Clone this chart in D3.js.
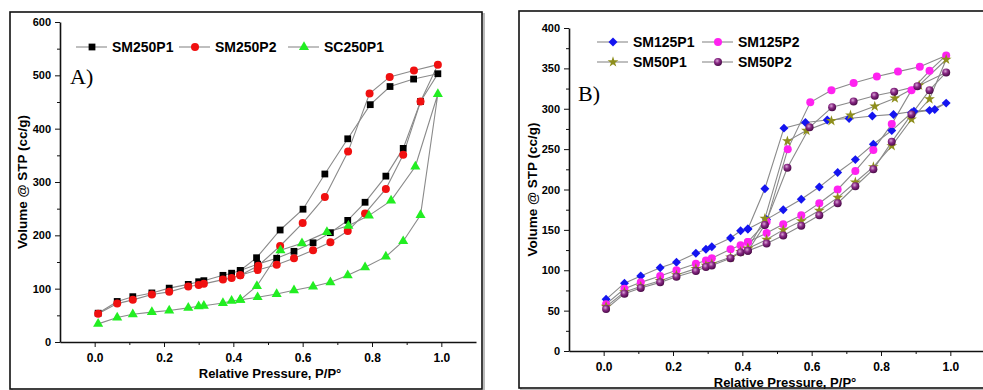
<!DOCTYPE html>
<html>
<head>
<meta charset="utf-8">
<script src="https://cdn.jsdelivr.net/npm/d3@7"></script>
<style>
  body { margin: 0; background: #fff; }
  svg { display: block; font-family: "Liberation Sans", Arial, sans-serif; }
  .tick text { font-weight: bold; fill: #000; }
  .axis path, .axis line { stroke: #111; }
  .title { font-weight: bold; fill: #000; }
</style>
</head>
<body>
<div id="chart"></div>
<script>
// panel A : relative pressure points of the adsorption branch
const aAdsX = [0.01, 0.065, 0.11, 0.165, 0.215, 0.27, 0.3, 0.315, 0.37, 0.395, 0.42, 0.47, 0.525, 0.575, 0.63, 0.68, 0.73, 0.78, 0.84, 0.89, 0.94, 0.99]
const sm250p1Ads = [54, 76, 85, 92, 101, 108, 113, 115, 125, 129, 134, 146, 157, 170, 186, 205, 228, 262, 311, 363, 451, 503]
const sm250p2Ads = [53, 72, 79, 89, 94, 104, 107, 109, 117, 120, 125, 135, 145, 157, 172, 187, 208, 241, 287, 351, 451, 520]
const sc250p1Ads = [34, 46, 52, 56, 59, 64, 67, 68, 73, 77, 79, 84, 90, 97, 104, 112, 125, 140, 160, 189, 238, 465]
// desorption branches
const sm250p1DesX = [0.92, 0.852, 0.795, 0.73, 0.664, 0.601, 0.535, 0.467, 0.42]
const sm250p1Des = [493, 479, 445, 381, 315, 249, 210, 158, 134]
const sm250p2DesX = [0.921, 0.851, 0.793, 0.731, 0.664, 0.6, 0.535, 0.472, 0.42]
const sm250p2Des = [509, 497, 466, 357, 272, 223, 180, 143, 125]
const sc250p1DesX = [0.925, 0.855, 0.791, 0.732, 0.67, 0.598, 0.536, 0.468, 0.42]
const sc250p1Des = [329, 265, 237, 218, 206, 185, 172, 105, 79]

// panel B
const bAdsX = [0.007, 0.06, 0.107, 0.163, 0.21, 0.266, 0.295, 0.312, 0.366, 0.395, 0.416, 0.47, 0.518, 0.57, 0.622, 0.675, 0.726, 0.778, 0.831, 0.888, 0.94, 0.988]
const sm125p1Ads = [64, 84, 93, 103, 110, 121, 126, 129, 140, 149, 151, 163, 175, 188, 203, 221, 237, 256, 273, 295, 298, 307]
const sm125p2Ads = [58, 77, 85, 93, 100, 108, 112, 115, 126, 131, 135, 146, 157, 168, 183, 200, 223, 249, 281, 323, 347, 366]
const sm50p1Ads = [55, 73, 80, 87, 94, 102, 106, 108, 116, 123, 127, 138, 150, 161, 174, 190, 209, 228, 254, 287, 312, 361]
const sm50p2Ads = [52, 71, 78, 85, 92, 99, 104, 106, 115, 122, 124, 133, 143, 155, 168, 183, 204, 225, 259, 293, 323, 345]
const sm125p1DesX = [0.955, 0.895, 0.836, 0.775, 0.708, 0.645, 0.582, 0.52, 0.465, 0.416]
const sm125p1Des = [299, 297, 293, 291, 288, 286, 283, 276, 201, 151]
const sm125p2DesX = [0.912, 0.849, 0.788, 0.721, 0.657, 0.596, 0.531, 0.47, 0.416]
const sm125p2Des = [352, 346, 340, 332, 323, 308, 250, 160, 135]
const sm50p1DesX = [0.91, 0.84, 0.782, 0.712, 0.657, 0.585, 0.53, 0.465, 0.416]
const sm50p1Des = [329, 313, 303, 292, 285, 273, 260, 164, 127]
const sm50p2DesX = [0.905, 0.838, 0.782, 0.721, 0.659, 0.594, 0.53, 0.465, 0.416]
const sm50p2Des = [328, 321, 316, 309, 302, 277, 227, 156, 124]

const xTicks = [0, 0.2, 0.4, 0.6, 0.8, 1.0]
const aYTicks = [0, 100, 200, 300, 400, 500, 600]
const bYTicks = [0, 50, 100, 150, 200, 250, 300, 350, 400]

function branch(adsX, ads, desX, des){
    const pts = adsX.map((x, i) => ({ x : x, y : ads[i] }))
    desX.forEach((x, i) => pts.push({ x : x, y : des[i] }))
    return pts
}

const panelA = {
    frame : { x : 10, y : 12, w : 472, h : 377 },
    left : 60, right : 476, top : 22, bottom : 342,
    yMax : 600, yTicks : aYTicks, yMinor : 50,
    label : 'A)', labelPos : [70, 84], yTitleX : 22, xTitleX : 270,
    series : [
        { name : 'SM250P1', shape : 'square', color : '#000', pts : branch(aAdsX, sm250p1Ads, sm250p1DesX, sm250p1Des), lx : 76, ly : 47 },
        { name : 'SM250P2', shape : 'circle', color : '#f01010', pts : branch(aAdsX, sm250p2Ads, sm250p2DesX, sm250p2Des), lx : 179, ly : 47 },
        { name : 'SC250P1', shape : 'triangle', color : '#22ee22', pts : branch(aAdsX, sc250p1Ads, sc250p1DesX, sc250p1Des), lx : 288, ly : 47 }
    ]
}
const panelB = {
    frame : { x : 519, y : 11, w : 480, h : 377 },
    left : 569, right : 985, top : 28, bottom : 351,
    yMax : 400, yTicks : bYTicks, yMinor : 25,
    label : 'B)', labelPos : [578, 101], yTitleX : 532, xTitleX : 785,
    series : [
        { name : 'SM125P1', shape : 'diamond', color : '#1414f0', pts : branch(bAdsX, sm125p1Ads, sm125p1DesX, sm125p1Des), lx : 597, ly : 42 },
        { name : 'SM125P2', shape : 'circle', color : '#ff22f0', pts : branch(bAdsX, sm125p2Ads, sm125p2DesX, sm125p2Des), lx : 702, ly : 42 },
        { name : 'SM50P1', shape : 'star', color : '#8e8e1c', pts : branch(bAdsX, sm50p1Ads, sm50p1DesX, sm50p1Des), lx : 597, ly : 62 },
        { name : 'SM50P2', shape : 'sphere', color : 'url(#sphere)', pts : branch(bAdsX, sm50p2Ads, sm50p2DesX, sm50p2Des), lx : 702, ly : 62 }
    ]
}

const svg = d3.select('#chart').append('svg')
    .attr('width', 983)
    .attr('height', 390)

const defs = svg.append('defs')
const grad = defs.append('radialGradient').attr('id', 'sphere')
    .attr('cx', '40%').attr('cy', '35%').attr('r', '65%')
grad.append('stop').attr('offset', '0%').attr('stop-color', '#d9a6d6')
grad.append('stop').attr('offset', '45%').attr('stop-color', '#8a2a86')
grad.append('stop').attr('offset', '100%').attr('stop-color', '#4a0b48')

function marker(sel, shape, color){
    if(shape == 'sphere' || shape == 'circle'){
        sel.append('circle').attr('r', 4).attr('fill', color)
        return
    }
    let type = d3.symbolSquare, size = 46, rot = 0
    if(shape == 'triangle'){ type = d3.symbolTriangle; size = 44 }
    if(shape == 'diamond'){ type = d3.symbolSquare; size = 40; rot = 45 }
    if(shape == 'star'){ type = d3.symbolStar; size = 36 }
    sel.append('path')
        .attr('d', d3.symbol().type(type).size(size)())
        .attr('transform', `rotate(${rot})`)
        .attr('fill', color)
}

drawPanel(panelA)
drawPanel(panelB)

function drawPanel(p){
    // frame with a soft shadow on the right
    svg.append('rect')
        .attr('x', p.frame.x + 2).attr('y', p.frame.y + 2)
        .attr('width', p.frame.w).attr('height', p.frame.h)
        .attr('fill', 'none').attr('stroke', '#bbb').attr('stroke-width', 2)
    svg.append('rect')
        .attr('x', p.frame.x).attr('y', p.frame.y)
        .attr('width', p.frame.w).attr('height', p.frame.h)
        .attr('fill', '#fff').attr('stroke', '#111').attr('stroke-width', 1.6)

    const xScale = d3.scaleLinear().domain([-0.1, 1.1]).range([p.left, p.right])
    const yScale = d3.scaleLinear().domain([0, p.yMax]).range([p.bottom, p.top])

    // minor ticks
    svg.append('g')
    .attr('class', 'axis')
    .attr('transform', `translate(0,${p.bottom})`)
    .call(d3.axisBottom(xScale).tickValues(d3.range(0.1, 1.0, 0.2)).tickSize(3).tickFormat(''))
    .call(g => g.select('.domain').remove())
    svg.append('g')
    .attr('class', 'axis')
    .attr('transform', `translate(${p.left},0)`)
    .call(d3.axisLeft(yScale).tickValues(d3.range(p.yMinor, p.yMax, p.yMinor * 2)).tickSize(3).tickFormat(''))
    .call(g => g.select('.domain').remove())

    svg.append('g')
    .attr('class', 'axis')
    .attr('transform', `translate(0,${p.bottom})`)
    .call(d3.axisBottom(xScale).tickValues(xTicks).tickSize(5).tickSizeOuter(0).tickPadding(6).tickFormat(d3.format('.1f')))
    .call(g => g.selectAll('text').style('font-size', '12px'))
    .call(g => g.select('.domain').attr('stroke-width', 1.6))

    svg.append('g')
    .attr('class', 'axis')
    .attr('transform', `translate(${p.left},0)`)
    .call(d3.axisLeft(yScale).tickValues(p.yTicks).tickSize(5).tickSizeOuter(0).tickPadding(4))
    .call(g => g.selectAll('text').style('font-size', '11px'))
    .call(g => g.select('.domain').attr('stroke-width', 1.6))

    // axis titles
    svg.append('text')
    .attr('class', 'title')
    .attr('x', p.xTitleX)
    .attr('y', p.bottom + 36)
    .attr('text-anchor', 'middle')
    .style('font-size', '13px')
    .text('Relative Pressure, P/P°')

    svg.append('text')
    .attr('class', 'title')
    .attr('transform', `translate(${p.yTitleX},${(p.top + p.bottom) / 2}) rotate(-90)`)
    .attr('text-anchor', 'middle')
    .attr('dy', '0.35em')
    .style('font-size', '13.5px')
    .text('Volume @ STP (cc/g)')

    svg.append('text')
    .attr('x', p.labelPos[0]).attr('y', p.labelPos[1])
    .style('font-family', '"Liberation Serif", serif')
    .style('font-size', '22px')
    .text(p.label)

    const line = d3.line()
    .x(d => xScale(d.x))
    .y(d => yScale(d.y))

    p.series.forEach(s => {
        svg.append('path')
        .datum(s.pts)
        .attr('d', line)
        .attr('fill', 'none')
        .attr('stroke', '#8a8a8a')
        .attr('stroke-width', 1.1)
    })
    p.series.forEach(s => {
        svg.append('g').selectAll('g')
        .data(s.pts)
        .enter()
            .append('g')
            .attr('transform', d => `translate(${xScale(d.x)},${yScale(d.y)})`)
            .each(function(){ marker(d3.select(this), s.shape, s.color) })
    })

    // legend
    p.series.forEach(s => {
        const lg = svg.append('g').attr('transform', `translate(${s.lx},${s.ly})`)
        lg.append('line').attr('x1', 0).attr('x2', 31).attr('y1', 0).attr('y2', 0)
        .attr('stroke', '#8a8a8a').attr('stroke-width', 1.1)
        marker(lg.append('g').attr('transform', 'translate(16,0)'), s.shape, s.color)
        lg.append('text')
        .attr('class', 'title')
        .attr('x', 36).attr('y', 0).attr('dy', '0.36em')
        .style('font-size', '14px')
        .text(s.name)
    })
}
</script>
</body>
</html>
